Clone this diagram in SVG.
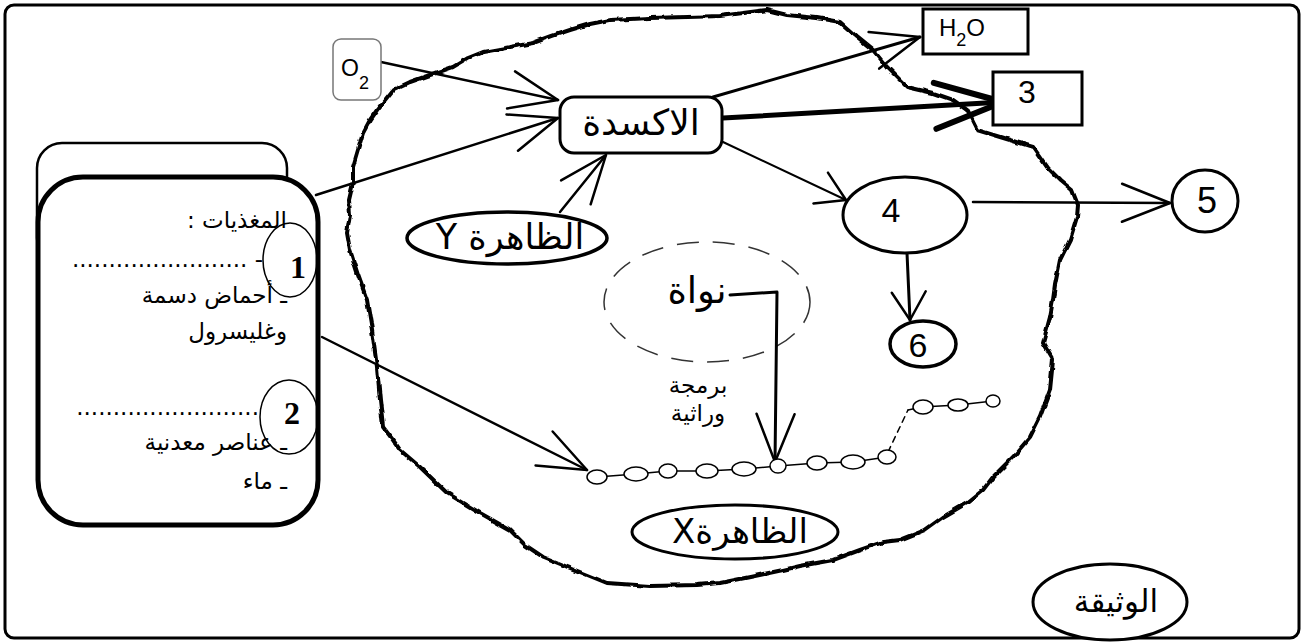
<svg xmlns="http://www.w3.org/2000/svg" width="1304" height="643" viewBox="0 0 1304 643">
<style>
.ln{stroke:#000;fill:none;stroke-linecap:round;stroke-linejoin:round}
.ar{font-family:"DejaVu Sans","Liberation Sans",sans-serif;fill:#000}
.lat{font-family:"Liberation Sans",Arial,sans-serif;fill:#000}
.num{font-family:"Liberation Serif","Times New Roman",serif;font-weight:bold;fill:#000}
.shape{fill:#fff;stroke:#000}
.bead{fill:#fff;stroke:#000;stroke-width:1.5}
</style>
<defs>
<filter id="rough" filterUnits="userSpaceOnUse" x="0" y="0" width="1304" height="643">
<feTurbulence type="fractalNoise" baseFrequency="0.09" numOctaves="2" seed="3" result="n"/>
<feDisplacementMap in="SourceGraphic" in2="n" scale="4" xChannelSelector="R" yChannelSelector="G"/>
</filter>
<marker id="a" markerUnits="userSpaceOnUse" orient="auto" refX="0" refY="0" markerWidth="120" markerHeight="120" viewBox="-80 -60 120 120" overflow="visible">
<path d="M-48,-19 L0,0 L-48,19" fill="none" stroke="#000" stroke-width="2.5" stroke-linecap="round" stroke-linejoin="round"/>
</marker>
<marker id="b" markerUnits="userSpaceOnUse" orient="auto" refX="0" refY="0" markerWidth="120" markerHeight="120" viewBox="-80 -60 120 120" overflow="visible">
<path d="M-28,-17 L0,0 L-28,17" fill="none" stroke="#000" stroke-width="2.5" stroke-linecap="round" stroke-linejoin="round"/>
</marker>
<marker id="c" markerUnits="userSpaceOnUse" orient="auto" refX="0" refY="0" markerWidth="120" markerHeight="120" viewBox="-80 -60 120 120" overflow="visible">
<path d="M-68,-23 L0,0 L-68,23" fill="none" stroke="#000" stroke-width="6" stroke-linecap="round" stroke-linejoin="round"/>
</marker>
</defs>
<rect width="1304" height="643" fill="#fff"/>
<g id="frame">
<rect x="5" y="5" width="1294" height="633" rx="9" fill="none" stroke="#000" stroke-width="3"/>
</g>
<g id="cell">
<path class="ln" stroke-width="4" filter="url(#rough)" d="M350,250 L347,233 L350,215 L349,200 L353,183 L353,167 L358,150 L363,133 L370,120 L377,110 L385,100 L393,90 L410,82 L430,75 L453,67 L468,58 L483,52 L505,48 L533,43 L552,36 L570,30 L590,24 L610,20 L650,18 L687,17 L720,16 L743,13 L767,10 L787,15 L817,18 L840,22 L857,37 L873,50 L887,67 L907,87 L933,93 L953,100 L967,110 L977,130 L1000,137 L1033,147 L1047,167 L1060,180 L1072,190 L1078,205 L1077,217 L1070,240 L1060,260 L1055,285 L1053,300 L1050,317 L1043,343 L1053,360 L1050,390 L1040,417 L1030,437 L1013,457 L993,477 L983,490 L967,503 L943,517 L925,530 L900,540 L883,542 L860,550 L833,560 L800,566 L783,570 L750,577 L720,583 L697,585 L650,586 L607,583 L575,570 L543,557 L525,545 L510,530 L480,513 L447,493 L420,467 L400,450 L393,440 L383,427 L380,400 L377,367 L372,330 L367,300 L358,275 Z"/>
</g>
<g id="nucleus">
<ellipse cx="707" cy="302" rx="103" ry="60" fill="none" stroke="#333" stroke-width="1.5" stroke-dasharray="22 14"/>
<text class="ar" x="697" y="303" font-size="37" text-anchor="middle" direction="rtl">نواة</text>
</g>
<g id="connectors">
<line class="ln" stroke-width="2.5" x1="381" y1="62" x2="558" y2="100" marker-end="url(#a)"/>
<line class="ln" stroke-width="2.5" x1="316" y1="195" x2="558" y2="118" marker-end="url(#a)"/>
<line class="ln" stroke-width="2.5" x1="560" y1="212" x2="606" y2="155" marker-end="url(#a)"/>
<line class="ln" stroke-width="3" x1="713" y1="97" x2="920" y2="37" marker-end="url(#a)"/>
<line class="ln" stroke-width="5" x1="723" y1="118" x2="1003" y2="102" marker-end="url(#c)"/>
<line class="ln" stroke-width="2" x1="723" y1="142" x2="846" y2="200" marker-end="url(#b)"/>
<line class="ln" stroke-width="2.5" x1="973" y1="202" x2="1170" y2="203" marker-end="url(#a)"/>
<line class="ln" stroke-width="3" x1="907" y1="253" x2="910" y2="320" marker-end="url(#b)"/>
<line class="ln" stroke-width="2.5" x1="322" y1="337" x2="587" y2="470" marker-end="url(#a)"/>
<polyline class="ln" stroke-width="3" points="730,295 777,292 775,462" marker-end="url(#a)"/>
<text class="ar" x="698" y="393" font-size="23" text-anchor="middle" direction="rtl">برمجة</text>
<text class="ar" x="698" y="421" font-size="23" text-anchor="middle" direction="rtl">وراثية</text>
</g>
<g id="chain">
<polyline class="ln" stroke-width="1.5" points="597,477 636,474 668,471 707,471 744,469 778,466 817,463 853,462 887,457"/>
<line class="ln" stroke-width="1.5" stroke-dasharray="6 5" x1="888" y1="452" x2="908" y2="410"/>
<polyline class="ln" stroke-width="1.5" points="908,410 922,407 958,405 993,401"/>
<ellipse class="bead" cx="597" cy="477" rx="10" ry="7"/>
<ellipse class="bead" cx="636" cy="474" rx="12" ry="7"/>
<ellipse class="bead" cx="668" cy="471" rx="9" ry="7"/>
<ellipse class="bead" cx="707" cy="471" rx="11" ry="7"/>
<ellipse class="bead" cx="744" cy="469" rx="12" ry="7"/>
<ellipse class="bead" cx="778" cy="466" rx="8" ry="7"/>
<ellipse class="bead" cx="817" cy="463" rx="10" ry="7"/>
<ellipse class="bead" cx="853" cy="462" rx="12" ry="7"/>
<ellipse class="bead" cx="887" cy="457" rx="9" ry="7"/>
<ellipse class="bead" cx="923" cy="407" rx="10" ry="7"/>
<ellipse class="bead" cx="958" cy="405" rx="10" ry="6"/>
<ellipse class="bead" cx="993" cy="401" rx="7" ry="6"/>
</g>
<g id="nutrients">
<rect x="37" y="143" width="250" height="120" rx="25" fill="#fff" stroke="#000" stroke-width="2.5"/>
<rect x="38" y="177" width="280" height="348" rx="45" fill="#fff" stroke="#000" stroke-width="5"/>
<text class="ar" x="287" y="228" font-size="23" direction="rtl" text-anchor="start">المغذيات :</text>
<text class="ar" x="263" y="267" font-size="23" direction="rtl" text-anchor="start">- ........................</text>
<text class="ar" x="287" y="303" font-size="23" direction="rtl" text-anchor="start">ـ أحماض دسمة</text>
<text class="ar" x="287" y="339" font-size="23" direction="rtl" text-anchor="start">وغليسرول</text>
<text class="ar" x="259" y="415" font-size="23" direction="rtl" text-anchor="start">.........................</text>
<text class="ar" x="287" y="450" font-size="23" direction="rtl" text-anchor="start">ـ عناصر معدنية</text>
<text class="ar" x="287" y="489" font-size="23" direction="rtl" text-anchor="start">ـ ماء</text>
</g>
<g id="n1">
<ellipse cx="290" cy="260" rx="27" ry="37" fill="none" stroke="#000" stroke-width="1.5"/>
<text class="num" x="298" y="278" font-size="32" text-anchor="middle">1</text>
</g>
<g id="n2">
<ellipse cx="289" cy="417" rx="29" ry="37" fill="none" stroke="#000" stroke-width="1.5"/>
<text class="num" x="292" y="424" font-size="32" text-anchor="middle">2</text>
</g>
<g id="o2">
<rect x="333" y="39" width="48" height="61" rx="8" fill="#fff" stroke="#777" stroke-width="1.5"/>
<text class="lat" x="341" y="76" font-size="23">O<tspan font-size="18" dy="13">2</tspan></text>
</g>
<g id="oxidation">
<rect class="shape" x="560" y="97" width="162" height="56" rx="14" stroke-width="3"/>
<text class="ar" x="641" y="135" font-size="36" text-anchor="middle" direction="rtl">الاكسدة</text>
</g>
<g id="h2o">
<rect class="shape" x="923" y="9" width="105" height="45" stroke-width="3"/>
<text class="lat" x="939" y="36" font-size="24">H<tspan font-size="18" dy="10">2</tspan><tspan dy="-10">O</tspan></text>
</g>
<g id="n3">
<rect class="shape" x="993" y="72" width="89" height="53" stroke-width="3"/>
<text class="lat" x="1027" y="103" font-size="32" text-anchor="middle">3</text>
</g>
<g id="n4">
<ellipse class="shape" cx="905" cy="215" rx="62" ry="38" stroke-width="3"/>
<text class="lat" x="891" y="222" font-size="34" text-anchor="middle">4</text>
</g>
<g id="n5">
<ellipse class="shape" cx="1205" cy="201" rx="33" ry="31" stroke-width="3"/>
<text class="lat" x="1207" y="213" font-size="36" text-anchor="middle">5</text>
</g>
<g id="n6">
<ellipse class="shape" cx="923" cy="344" rx="33" ry="23" stroke-width="3.5"/>
<text class="lat" x="918" y="357" font-size="34" text-anchor="middle">6</text>
</g>
<g id="phenY">
<ellipse class="shape" cx="507" cy="238" rx="100" ry="26" stroke-width="3.5"/>
<text class="ar" x="510" y="249" font-size="35" text-anchor="middle" direction="rtl">الظاهرة Y</text>
</g>
<g id="phenX">
<ellipse class="shape" cx="735" cy="532" rx="103" ry="27" stroke-width="3"/>
<text class="ar" x="740" y="543" font-size="34" text-anchor="middle" direction="rtl">الظاهرةX</text>
</g>
<g id="doc">
<ellipse class="shape" cx="1110" cy="602" rx="77" ry="38" stroke-width="3"/>
<text class="ar" x="1116" y="612" font-size="31" text-anchor="middle" direction="rtl">الوثيقة</text>
</g>
</svg>
